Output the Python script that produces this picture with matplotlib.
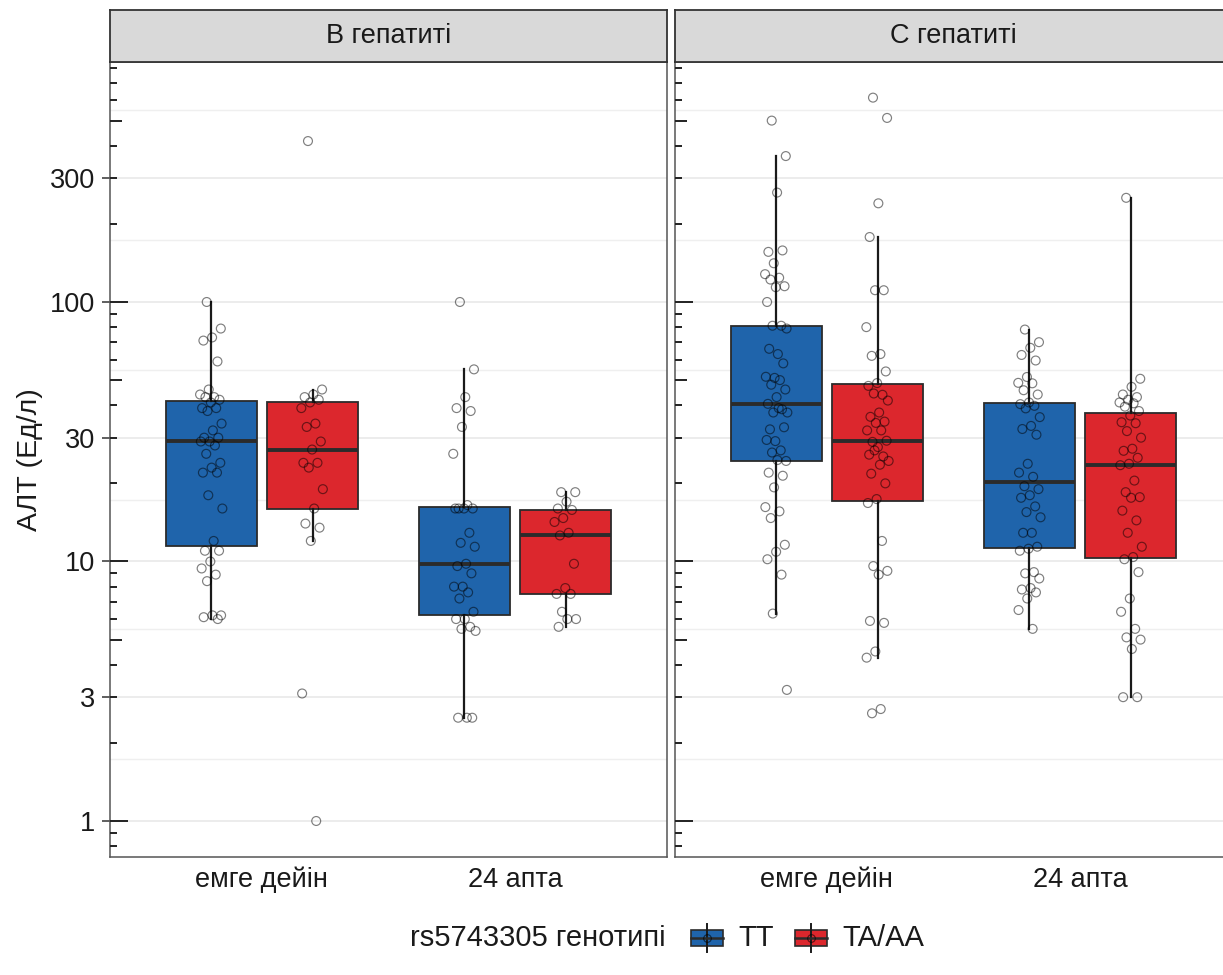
import numpy as np
import matplotlib
matplotlib.use("Agg")
import matplotlib.pyplot as plt
from matplotlib import cbook
from matplotlib.patches import Rectangle
from matplotlib.lines import Line2D
from matplotlib.transforms import blended_transform_factory

plt.rcParams['font.family'] = ['Liberation Sans', 'DejaVu Sans']

# ---------------- data ----------------
facets = ["В гепатиті", "С гепатиті"]
timepoints = ["емге дейін", "24 апта"]
genotypes = ["TT", "TA/AA"]
legend_title = "rs5743305 генотипі"
y_label = "АЛТ (Ед/л)"
y_ticks = [1, 3, 10, 30, 100, 300]
y_ticklabels = ["1", "3", "10", "30", "100", "300"]
colors = ["#1F64AB", "#DC272D"]

b_before_tt = [100, 79, 73, 71, 59, 46, 44, 43, 43, 42, 41, 39, 39, 38, 34, 32, 30, 30,
               29, 29, 28, 26, 24, 23, 22, 22, 18, 16, 12, 11, 11, 10, 9.4, 8.9, 8.4,
               6.2, 6.2, 6.1, 6.0]
b_before_ta = [417, 46, 44, 43, 42, 41, 39, 34, 33, 29, 27, 24, 24, 23, 19, 16, 14, 13.5,
               12, 3.1, 1.0]
b_24_tt = [100, 55, 43, 39, 38, 33, 26, 16.5, 16, 16, 16, 16, 12.9, 11.8, 11.4, 9.8, 9.6,
           9, 8, 8, 7.6, 7.2, 6.4, 6, 6, 5.6, 5.5, 5.4, 2.5, 2.5, 2.5]
b_24_ta = [18.5, 18.5, 17, 16, 15.8, 14.7, 14.2, 12.9, 12.6, 9.8, 7.9, 7.5, 7.5, 6.4,
           6.0, 6.0, 5.6]
c_before_tt = [500, 365, 264, 156, 158, 141, 128, 124, 122, 115, 114, 100, 81, 81, 79, 63,
               66, 58, 51, 51.5, 50, 48, 46, 43, 40.5, 38.6, 37.5, 37.5, 39, 32.3, 32.9,
               29.1, 29.4, 26.8, 26.3, 24.4, 24.6, 22, 21.4, 19.3, 16.2, 15.6, 14.7, 11.6,
               10.9, 10.2, 8.9, 6.3, 3.2]
c_before_ta = [613, 512, 240, 178, 111, 111, 80, 63, 62, 54, 48.7, 47.5, 43.9, 44.4, 41.7,
               37.5, 36.1, 34.6, 34.2, 32, 32, 28.9, 29.2, 27.6, 25.8, 25.4, 26.8, 24.4,
               23.6, 21.8, 20, 17.4, 16.8, 12, 9.6, 9.2, 8.9, 5.9, 5.8, 4.5, 4.26, 2.7, 2.6]
c_24_tt = [78.3, 70, 66.6, 62.5, 59.5, 51.4, 48.8, 48.6, 45.7, 44, 41, 40.4, 39.8, 38.9,
           36, 33.3, 32.4, 30.8, 23.8, 22, 21.2, 19.5, 19, 18, 17.6, 16.3, 15.5, 14.8,
           12.9, 12.9, 11.4, 11.2, 11, 9.1, 9.0, 8.6, 7.9, 7.8, 7.6, 7.2, 6.5, 5.5]
c_24_ta = [252, 50.6, 47.1, 44, 43, 42, 41, 40.7, 39.5, 38, 36.5, 34.4, 34.1, 31.8, 30,
           27.2, 26.7, 25.1, 23.8, 23.5, 20.5, 18.5, 17.7, 17.6, 15.7, 14.4, 12.9, 11.4,
           10.4, 10.2, 9.1, 7.2, 6.4, 5.5, 5.1, 5.0, 4.6, 3.0, 3.0]

data = {
    (0, 0, 0): b_before_tt, (0, 0, 1): b_before_ta,
    (0, 1, 0): b_24_tt, (0, 1, 1): b_24_ta,
    (1, 0, 0): c_before_tt, (1, 0, 1): c_before_ta,
    (1, 1, 0): c_24_tt, (1, 1, 1): c_24_ta,
}

# ---------------- layout ----------------
W, H = 1223, 975
fig = plt.figure(figsize=(W / 100, H / 100), dpi=100)
FS = 19.5
LFS = 21
TXT = "#1A1A1A"

panel_left_px = [110, 675]
panel_w_px = 557
panel_top_px, panel_bot_px = 62, 857
strip_top_px = 10

ylim = (0.7265, 841)
minor_grid = [np.sqrt(3), np.sqrt(30), np.sqrt(300), np.sqrt(3000), np.sqrt(30000),
              np.sqrt(300000)]
dodge = 0.2
box_w = 0.36
jit = 0.045

for f, fname in enumerate(facets):
    lp = panel_left_px[f]
    ax = fig.add_axes([lp / W, 1 - panel_bot_px / H, panel_w_px / W,
                       (panel_bot_px - panel_top_px) / H])
    ax.set_yscale('log')
    ax.set_ylim(*ylim)
    ax.set_xlim(0.4, 2.6)
    ax.set_facecolor('white')
    # grid
    for v in y_ticks:
        ax.axhline(v, color='#EBEBEB', lw=1.3, zorder=0)
    for v in minor_grid:
        ax.axhline(v, color='#EFEFEF', lw=1.0, zorder=0)
    # log ticks inside left edge
    tr = blended_transform_factory(ax.transAxes, ax.transData)
    for e in range(-1, 3):
        for k in range(1, 10):
            v = k * 10.0 ** e
            if ylim[0] <= v <= ylim[1]:
                L = 18 if k == 1 else (12 if k == 5 else 7)
                ax.plot([0, L / panel_w_px], [v, v], color='#222222', lw=1.4,
                        transform=tr, clip_on=False, zorder=4, solid_capstyle='butt')
    # boxes and points
    for t in range(len(timepoints)):
        for g in range(len(genotypes)):
            vals = np.array(data[(f, t, g)], dtype=float)
            pos = t + 1 + (-dodge if g == 0 else dodge)
            st = cbook.boxplot_stats(np.log10(vals))[0]
            for key in ['med', 'q1', 'q3', 'whislo', 'whishi', 'mean']:
                st[key] = 10 ** st[key]
            st['fliers'] = np.array([])
            ax.bxp([st], positions=[pos], widths=box_w, patch_artist=True,
                   showfliers=False, showcaps=False, manage_ticks=False,
                   boxprops=dict(facecolor=colors[g], edgecolor='#2B2B2B', lw=1.3),
                   medianprops=dict(color='#2B2B2B', lw=2.8, solid_capstyle='butt'),
                   whiskerprops=dict(color='#1A1A1A', lw=1.6))
            n = len(vals)
            offs = ((np.arange(n) * 0.6180339887 + 0.3) % 1 - 0.5) * 2 * jit
            ax.scatter(pos + offs, vals, s=6.4 ** 2, facecolors='none',
                       edgecolors=(0, 0, 0, 0.5), linewidths=0.85, zorder=5)
    # axes styling
    for sp in ax.spines.values():
        sp.set_color('#555555')
        sp.set_linewidth(1.1)
    ax.set_xticks([1, 2])
    ax.set_xticklabels(timepoints, fontsize=FS, color=TXT)
    ax.tick_params(axis='x', length=0, pad=7)
    ax.yaxis.set_minor_locator(matplotlib.ticker.NullLocator())
    ax.set_yticks(y_ticks)
    if f == 0:
        ax.set_yticklabels(y_ticklabels, fontsize=FS, color=TXT)
        ax.tick_params(axis='y', length=6, width=1.1, color='#333333', pad=5)
    else:
        ax.set_yticklabels([])
        ax.tick_params(axis='y', length=0)
    # strip
    sax = fig.add_axes([lp / W, 1 - panel_top_px / H, panel_w_px / W,
                        (panel_top_px - strip_top_px) / H])
    sax.set_facecolor('#D9D9D9')
    sax.set_xticks([])
    sax.set_yticks([])
    for sp in sax.spines.values():
        sp.set_color('#333333')
        sp.set_linewidth(1.3)
    sax.text(0.5, 0.5, fname, ha='center', va='center', fontsize=FS, color=TXT,
             transform=sax.transAxes)

# y axis title
fig.text(30 / W, 1 - 459.5 / H, y_label, rotation=90, ha='center', va='center',
         fontsize=FS + 1, color=TXT)

# legend (drawn manually in pixel coordinates)
yc = 938
def px(x, y):
    return x / W, 1 - y / H

fig.text(*px(410, yc), legend_title, ha='left', va='center', fontsize=LFS, color=TXT)
key_cx = [707, 811]
lab_x = [738, 842]
for g in range(len(genotypes)):
    cx = key_cx[g]
    x0, y0 = px(cx, yc + 14)
    x1, y1 = px(cx, yc - 14)
    fig.add_artist(Line2D([x0, x1], [y0, y1], color='#1A1A1A', lw=1.4))
    bx, by = px(cx - 16, yc + 8)
    fig.add_artist(Rectangle((bx, by), 32 / W, 16 / H, facecolor=colors[g],
                             edgecolor='#2B2B2B', lw=1.2))
    a0, b0 = px(cx - 16, yc)
    a1, b1 = px(cx + 16, yc)
    fig.add_artist(Line2D([a0, a1], [b0, b1], color='#2B2B2B', lw=1.8))
    fig.add_artist(Line2D([px(cx, yc)[0]], [px(cx, yc)[1]], marker='o', ms=5.5,
                          mfc='none', mec=(0, 0, 0, 0.6), mew=0.8, lw=0))
    fig.text(*px(lab_x[g], yc), genotypes[g], ha='left', va='center', fontsize=LFS,
             color=TXT)

fig.savefig("out.png", dpi=100)
